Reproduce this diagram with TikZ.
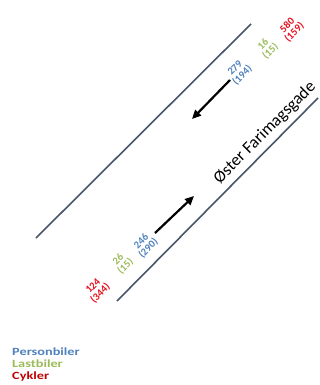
\documentclass[tikz,border=0pt]{standalone}
\usepackage{fontspec}
\setmainfont{Carlito}
\newfontfamily\bredfont[FakeStretch=1.3]{Carlito}
\usetikzlibrary{arrows.meta}
\definecolor{pbil}{RGB}{79,129,189}
\definecolor{lbil}{RGB}{155,187,89}
\definecolor{cyk}{RGB}{192,0,0}
\definecolor{cyknum}{RGB}{232,16,32}
\definecolor{vej}{RGB}{72,86,106}
\tikzset{
  kant/.style={draw=vej, line width=1.6pt},
  retning/.style={line width=2.2pt, -{Triangle[length=9pt,width=8pt]}},
  tal/.style={font=\bfseries\fontsize{10.5}{10}\selectfont, rotate=45, align=center, inner sep=0pt},
  forklaring/.style={font=\bredfont\bfseries\fontsize{11}{12}\selectfont, anchor=base west, inner sep=0pt}
}
\begin{document}
\begin{tikzpicture}[x=1pt,y=-1pt]
  \useasboundingbox (0,0) rectangle (320,385);
  % vejkanter
  \coordinate (nv) at (36,238);
  \coordinate (no) at (251,24);
  \coordinate (sv) at (117,301);
  \coordinate (so) at (318,98);
  \draw[kant] (nv) -- (no);
  \draw[kant] (sv) -- (so);
  % koereretninger
  \coordinate (ind1) at (230,80);
  \coordinate (ud1) at (192,119);
  \coordinate (ind2) at (155,233);
  \coordinate (ud2) at (194,196);
  \draw[retning] (ind1) -- (ud1);
  \draw[retning] (ind2) -- (ud2);
  % vejnavn
  \node[font=\fontsize{17}{17}\selectfont, rotate=45, anchor=base] (vejnavn) at (268,136) {Øster Farimagsgade};
  % tal mod sydvest
  \node[tal, pbil] (pb1) at (239,72) {279\\(194)};
  \node[tal, lbil] (lb1) at (267,48) {16\\(15)};
  \node[tal, cyknum] (ck1) at (291,29) {580\\(159)};
  % tal mod nordoest
  \node[tal, pbil] (pb2) at (145,245) {246\\(290)};
  \node[tal, lbil] (lb2) at (122,263) {26\\(15)};
  \node[tal, cyknum] (ck2) at (97,290) {124\\(344)};
  % forklaring
  \node[forklaring, pbil] (fpb) at (12,355) {Personbiler};
  \node[forklaring, lbil] (flb) at (12,367) {Lastbiler};
  \node[forklaring, cyk] (fck) at (12,379) {Cykler};
\end{tikzpicture}
\end{document}
